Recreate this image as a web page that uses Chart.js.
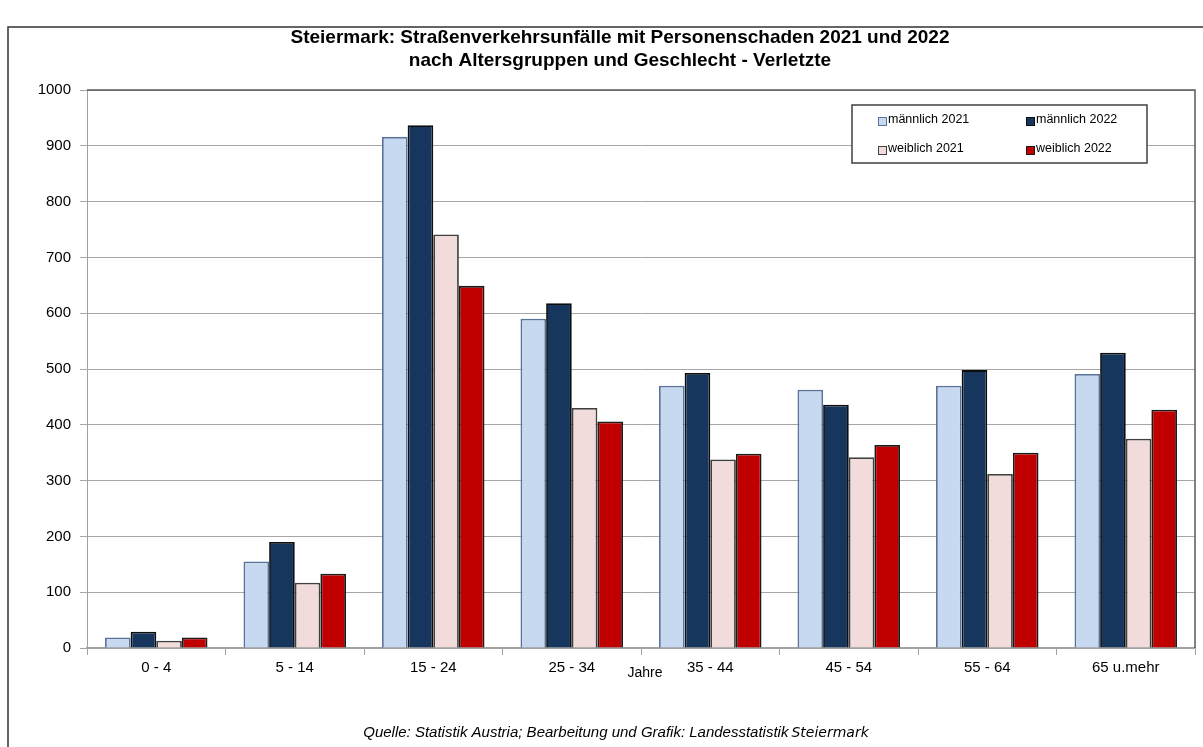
<!DOCTYPE html>
<html>
<head>
<meta charset="utf-8">
<script src="https://cdn.jsdelivr.net/npm/chart.js@4.4.0/dist/chart.umd.min.js"></script>
<style>
  html, body { margin: 0; padding: 0; background: #fff; }
</style>
</head>
<body>
<canvas id="chart" width="1203" height="747"></canvas>
<script>
// Data
const ageGroups   = ['0 - 4', '5 - 14', '15 - 24', '25 - 34', '35 - 44', '45 - 54', '55 - 64', '65 u.mehr'];
const male2021    = [19, 155, 916, 590, 470, 463, 470, 491];
const male2022    = [29, 190, 937, 618, 493, 436, 498, 529];
const female2021  = [13, 117, 741, 430, 338, 342, 312, 375];
const female2022  = [19, 133, 649, 406, 348, 364, 350, 427];
const yTicks      = [0, 100, 200, 300, 400, 500, 600, 700, 800, 900, 1000];

const titleLines  = ['Steiermark: Straßenverkehrsunfälle mit Personenschaden 2021 und 2022',
                     'nach Altersgruppen und Geschlecht - Verletzte'];
const sourceText  = 'Quelle: Statistik Austria; Bearbeitung und Grafik: Landesstatistik';
const sourceBrand = 'Steiermark';

const FONT = '"Liberation Sans", Arial, sans-serif';

const series = [
  { label: 'männlich 2021', data: male2021,   fill: '#c6d9f1', line: '#5a7398' },
  { label: 'männlich 2022', data: male2022,   fill: '#17365d', line: '#0d0d0d' },
  { label: 'weiblich 2021', data: female2021, fill: '#f2dcdb', line: '#404040' },
  { label: 'weiblich 2022', data: female2022, fill: '#c00000', line: '#1a1a1a' },
];

// Frame, title, boxed legend, axis caption and source line
const decorations = {
  id: 'decorations',
  beforeDraw(chart) {
    const ctx = chart.ctx;
    ctx.save();
    ctx.fillStyle = '#fff';
    ctx.fillRect(0, 0, chart.width, chart.height);
    ctx.strokeStyle = '#333';
    ctx.lineWidth = 1.5;
    ctx.strokeRect(8, 27, chart.width + 20, chart.height + 20);
    ctx.restore();
  },
  afterDraw(chart) {
    const ctx = chart.ctx;
    const a = chart.chartArea;
    ctx.save();

    // plot border (top + right)
    ctx.strokeStyle = '#595959';
    ctx.lineWidth = 1.5;
    ctx.beginPath();
    ctx.moveTo(a.left, a.top);
    ctx.lineTo(a.right, a.top);
    ctx.lineTo(a.right, a.bottom);
    ctx.stroke();

    // title
    ctx.fillStyle = '#000';
    ctx.textAlign = 'center';
    ctx.textBaseline = 'middle';
    ctx.font = 'bold 19px ' + FONT;
    ctx.fillText(titleLines[0], 620, 38);
    ctx.fillText(titleLines[1], 620, 61);

    // legend box
    const bx = a.right - 343, by = a.top + 15, bw = 295, bh = 58;
    ctx.fillStyle = '#fff';
    ctx.fillRect(bx, by, bw, bh);
    ctx.strokeStyle = '#404040';
    ctx.lineWidth = 1.5;
    ctx.strokeRect(bx, by, bw, bh);
    ctx.font = '12.5px ' + FONT;
    ctx.textAlign = 'left';
    chart.data.datasets.forEach((ds, i) => {
      const col = i % 2, row = i < 2 ? 0 : 1;
      const sx = bx + 26 + col * 148;
      const sy = by + 12 + row * 29;
      ctx.fillStyle = ds.backgroundColor;
      ctx.fillRect(sx, sy, 8, 8);
      ctx.strokeStyle = ds.borderColor;
      ctx.lineWidth = 1;
      ctx.strokeRect(sx + 0.5, sy + 0.5, 8, 8);
      ctx.fillStyle = '#000';
      ctx.fillText(ds.label, sx + 10, sy + 3);
    });

    // axis caption
    ctx.font = '14px ' + FONT;
    ctx.textAlign = 'center';
    ctx.fillText('Jahre', 645, 673);

    // source line
    ctx.font = 'italic 15px ' + FONT;
    ctx.textAlign = 'left';
    const w1 = ctx.measureText(sourceText).width;
    ctx.font = 'italic 14px "DejaVu Sans", sans-serif';
    const w2 = ctx.measureText(sourceBrand).width;
    const x0 = 616 - (w1 + w2 + 3) / 2;
    ctx.font = 'italic 15px ' + FONT;
    ctx.fillText(sourceText, x0, 733);
    ctx.font = 'italic 14px "DejaVu Sans", sans-serif';
    ctx.fillText(sourceBrand, x0 + w1 + 3, 733);

    ctx.restore();
  }
};

new Chart(document.getElementById('chart'), {
  type: 'bar',
  data: {
    labels: ageGroups,
    datasets: series.map(s => ({
      label: s.label,
      data: s.data,
      backgroundColor: s.fill,
      borderColor: s.line,
      borderWidth: 1.8,
      borderSkipped: 'bottom',
    })),
  },
  options: {
    responsive: false,
    animation: false,
    layout: { padding: { top: 90, right: 8, left: 0, bottom: 0 } },
    datasets: { bar: { categoryPercentage: 0.74, barPercentage: 1.0 } },
    plugins: {
      legend: { display: false },
      title: { display: false },
      tooltip: { enabled: false },
    },
    scales: {
      x: {
        afterFit: s => { s.height = 99; },
        grid: { offset: true, drawOnChartArea: false, drawTicks: true, tickLength: 7, color: '#a0a0a0' },
        border: { color: '#a0a0a0', width: 1.5 },
        ticks: { color: '#000', font: { family: FONT, size: 15 }, padding: 4, maxRotation: 0 },
      },
      y: {
        min: 0,
        max: 1000,
        afterFit: s => { s.width = 87; },
        afterBuildTicks: s => { s.ticks = yTicks.map(v => ({ value: v })); },
        grid: { color: '#a6a6a6', lineWidth: 1, tickLength: 7 },
        border: { color: '#a0a0a0', width: 1 },
        ticks: { color: '#000', font: { family: FONT, size: 15 }, padding: 9, callback: v => String(v) },
      },
    },
  },
  plugins: [decorations],
});
</script>
</body>
</html>
